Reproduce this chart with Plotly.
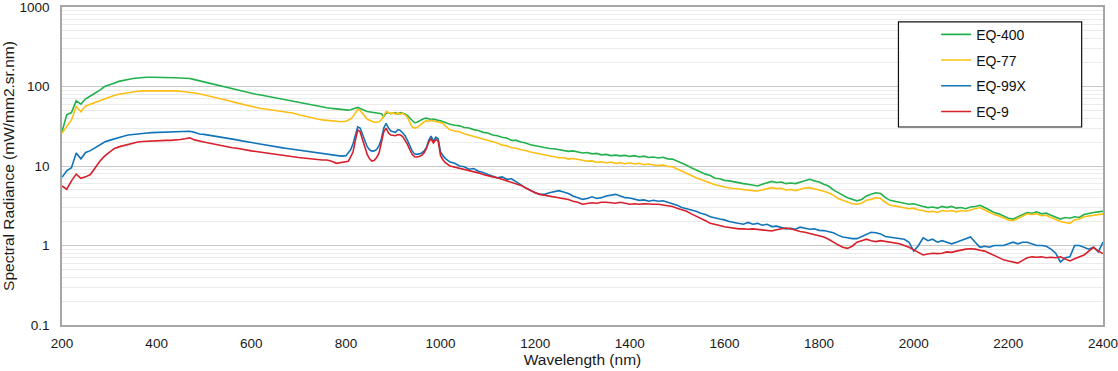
import plotly.graph_objects as go

# Wavelength sampling (nm): 10 nm steps, 5 nm through the 800-1005 nm peak region
wavelength = list(range(200, 800, 10)) + list(range(800, 1010, 5)) + list(range(1010, 2401, 10))

eq400 = [
    # 200-790
    27, 44, 47, 66, 60, 70, 76, 82, 90, 100,
    106, 110, 116, 120, 123, 126, 128, 130, 131, 131,
    131, 131, 130, 130, 129, 128, 127, 126, 122, 118,
    115, 111, 107, 105, 101, 97, 95, 92, 88, 86,
    83, 80, 78, 76, 74, 72, 70, 68, 66, 65,
    63, 61, 59, 58, 56, 55, 54, 53, 52, 51,
    # 800-1005 (5 nm)
    50, 50.5, 51, 52, 53, 54.5, 53, 51, 50, 48.5,
    48, 47.5, 47, 46.5, 46, 45.5, 42, 46, 47, 45.5,
    46, 47, 45, 47, 46, 45, 43, 40, 36.5, 35,
    35.5, 37, 38, 39.5, 40, 39, 38.5, 39, 38, 37.5,
    37, 36,
    # 1010-2400
    35, 33.5, 32.5, 32, 30.5, 30, 28.7, 28, 26.5,
    26, 24.5, 24, 23, 22.5, 21, 21, 20, 19.5, 18.5,
    18, 17.5, 17.3, 16.6, 16.5, 16, 15.8, 15.3, 15.5, 15,
    14.6, 14.8, 14.2, 14.4, 13.8, 14.0, 13.5, 13.7, 13.4, 13.6,
    13.2, 13.5, 13.0, 13.3, 12.8, 13.0, 12.6, 12.9, 12.3, 12.2,
    11.5, 11.0, 10.2, 9.5, 8.9, 8.5, 7.9, 7.6, 7.0, 6.9,
    6.6, 6.5, 6.3, 6.2, 6.0, 5.9, 5.7, 5.6, 5.9, 6.2,
    6.4, 6.2, 6.3, 6.0, 6.1, 6.0, 6.3, 6.6, 6.8, 6.5,
    6.3, 5.9, 5.6, 5.0, 4.6, 4.3, 4.0, 3.8, 3.65, 3.8,
    4.2, 4.4, 4.6, 4.5, 4.0, 3.7, 3.6, 3.5, 3.4, 3.3,
    3.35, 3.2, 3.1, 3.0, 3.05, 2.95, 3.1, 3.0, 3.1, 2.95,
    3.0, 2.9, 3.05, 3.1, 3.2, 3.0, 2.8, 2.6, 2.5, 2.35,
    2.2, 2.15, 2.3, 2.45, 2.6, 2.55, 2.65, 2.5, 2.55, 2.4,
    2.25, 2.15, 2.25, 2.2, 2.3, 2.25, 2.45, 2.55, 2.6, 2.65,
    2.7,
]

eq77 = [
    # 200-790
    26, 32, 38, 56, 48, 57, 60, 63, 67, 71,
    74, 77, 80, 82, 84, 86, 87, 88, 88, 89,
    89, 89, 88, 88, 88, 87, 86, 85, 83, 81,
    78, 76, 73, 71, 69, 67, 65, 62, 60, 58,
    56, 55, 53, 52, 51, 50, 49, 48, 47, 46,
    44, 42.5, 41, 40, 39, 38, 37.5, 37, 36.5, 36,
    # 800-1005 (5 nm)
    36.5, 37.5, 39, 42, 47, 51.5, 50, 46, 42, 39,
    37.5, 36.5, 35.5, 35.5, 36, 38, 44, 48.5, 47, 46,
    46.5, 45, 46.5, 45, 46, 44, 41, 36, 31, 30,
    30.5, 32, 34, 36, 37, 36.5, 37.5, 37, 36.5, 36,
    35, 34.5,
    # 1010-2400
    32, 28.5, 27.5, 27, 25.5, 24.5, 23.7, 23, 21.8,
    21, 20, 19.5, 18.3, 18, 17, 16.7, 16, 15.7, 15,
    14.6, 14.2, 13.8, 13.3, 13.1, 12.7, 12.8, 12.2, 12.4, 12.0,
    11.8, 11.5, 11.6, 11.1, 11.3, 10.9, 11.2, 10.8, 11.0, 10.7,
    11.0, 10.6, 10.8, 10.4, 10.6, 10.3, 10.1, 10.3, 9.9, 9.8,
    9.2, 8.8, 8.2, 7.6, 7.1, 6.8, 6.4, 6.1, 5.8, 5.6,
    5.4, 5.3, 5.2, 5.1, 5.0, 4.95, 4.9, 4.85, 5.0, 5.2,
    5.35, 5.2, 5.25, 5.0, 5.05, 4.9, 5.1, 5.3, 5.35, 5.2,
    5.0, 4.8, 4.6, 4.3, 3.9, 3.7, 3.5, 3.35, 3.3, 3.4,
    3.7, 3.8, 4.0, 3.9, 3.5, 3.2, 3.15, 3.05, 2.95, 2.9,
    2.95, 2.8, 2.75, 2.65, 2.7, 2.6, 2.75, 2.7, 2.75, 2.65,
    2.75, 2.7, 2.8, 2.9, 3.0, 2.8, 2.6, 2.45, 2.35, 2.2,
    2.1, 2.05, 2.2, 2.35, 2.5, 2.45, 2.5, 2.37, 2.4, 2.25,
    2.1, 2.0, 1.95, 1.9, 2.1, 2.15, 2.3, 2.35, 2.4, 2.45,
    2.5,
]

eq99x = [
    # 200-790
    7.2, 8.7, 9.5, 14.6, 12.3, 14.8, 15.6, 17, 18.8, 20,
    21, 22, 23, 23.7, 24.5, 25, 25.5, 25.8, 26, 26.3,
    26.5, 26.6, 26.6, 26.8, 27, 27, 27.2, 27.4, 26.5, 25.3,
    25, 24.5, 24, 23.5, 23, 22.5, 21.8, 21.3, 20.7, 20.2,
    19.6, 19.2, 18.7, 18.3, 17.9, 17.5, 17.1, 16.8, 16.5, 16.2,
    15.9, 15.6, 15.3, 15, 14.8, 14.5, 14.2, 14, 13.5, 13.3,
    # 800-1005 (5 nm)
    13.5, 14.5, 16, 19, 25, 31, 30, 25, 20.5, 17.5,
    16, 15.4, 15.5, 16.2, 18, 22, 30, 34.5, 30, 27.5,
    27, 26.5, 28.7, 28, 26, 24, 21, 18, 15.5, 14.2,
    14, 14.2, 14.6, 15.4, 17, 21, 23.7, 20.5, 23, 22,
    15, 13.5,
    # 1010-2400
    12.5, 11.2, 10.8, 10.0, 9.8, 9.1, 9.3, 8.6, 8.3,
    7.8, 7.5, 7.1, 7.3, 6.8, 6.9, 6.4, 5.8, 5.3, 4.9,
    4.6, 4.4, 4.4, 4.6, 4.8, 4.9, 4.7, 4.5, 4.2, 4.0,
    3.8, 3.9, 4.1, 3.9, 4.0, 4.2, 4.3, 4.4, 4.2, 4.0,
    3.96, 3.8, 3.7, 3.75, 3.6, 3.7, 3.6, 3.65, 3.5, 3.4,
    3.2, 3.0, 2.9, 2.8, 2.7, 2.55, 2.45, 2.3, 2.2, 2.15,
    2.1, 2.0, 1.95, 1.9, 1.85, 1.95, 1.85, 1.9, 1.8, 1.85,
    1.73, 1.75, 1.68, 1.62, 1.65, 1.6, 1.7, 1.66, 1.6, 1.62,
    1.55, 1.54, 1.5, 1.45, 1.35, 1.28, 1.25, 1.22, 1.22, 1.3,
    1.4, 1.47, 1.45, 1.4, 1.3, 1.28, 1.25, 1.22, 1.2, 1.1,
    0.85, 1.0, 1.25, 1.15, 1.2, 1.1, 1.15, 1.1, 1.05, 1.1,
    1.15, 1.2, 1.28, 1.1, 0.95, 0.98, 0.95, 1.0, 1.0, 1.0,
    1.05, 1.1, 1.05, 1.1, 1.1, 1.05, 1.0, 1.0, 0.98, 0.9,
    0.8, 0.62, 0.7, 0.72, 1.0, 1.0, 0.95, 0.9, 0.95, 0.83,
    1.1,
]

eq9 = [
    # 200-790
    5.6, 5.1, 6.5, 7.9, 7.0, 7.3, 7.8, 9.5, 11.5, 13.3,
    15, 16.5, 17.4, 18, 18.8, 19.5, 20, 20.3, 20.5, 20.5,
    20.7, 20.8, 21, 21, 21.1, 21.5, 22, 22.6, 21.3, 20.5,
    20, 19.5, 18.9, 18.4, 18, 17.5, 17, 16.7, 16.2, 15.8,
    15.5, 15.2, 14.9, 14.6, 14.3, 14, 13.6, 13.4, 13.2, 13,
    12.8, 12.6, 12.4, 12.1, 12, 11.9, 11.9, 11.5, 10.8, 11.0,
    # 800-1005 (5 nm)
    11.2, 11.5, 13, 15, 21, 28.5, 27, 22, 17, 14,
    12.3, 11.5, 11.8, 12.8, 14.5, 19, 27, 30, 26, 24.5,
    24.2, 24, 24.9, 24.5, 23.5, 21, 18.7, 16, 14, 13.1,
    13, 13.2, 13.6, 14.6, 16.5, 20, 22, 19.5, 21.6, 20.5,
    13.5, 12,
    # 1010-2400
    11, 10, 9.7, 9.3, 9.1, 8.7, 8.5, 8.2, 7.8,
    7.5, 7.3, 7.1, 6.8, 6.6, 6.3, 6.0, 5.7, 5.3, 4.9,
    4.6, 4.4, 4.3, 4.2, 4.1, 4.0, 3.96, 3.8, 3.6, 3.5,
    3.3, 3.4, 3.45, 3.4, 3.5, 3.5, 3.45, 3.4, 3.5, 3.4,
    3.3, 3.35, 3.3, 3.35, 3.3, 3.3, 3.3, 3.25, 3.2, 3.1,
    2.95, 2.85, 2.7, 2.5, 2.35, 2.2, 2.05, 1.9, 1.82, 1.78,
    1.72, 1.68, 1.65, 1.62, 1.62, 1.6, 1.62, 1.6, 1.58, 1.55,
    1.52, 1.58, 1.62, 1.66, 1.62, 1.55, 1.5, 1.47, 1.42, 1.38,
    1.33, 1.28, 1.2, 1.1, 1.02, 0.95, 0.92, 0.98, 1.1, 1.15,
    1.2, 1.15, 1.12, 1.15, 1.12, 1.1, 1.08, 1.05, 1.0, 0.95,
    0.88, 0.82, 0.76, 0.78, 0.8, 0.79, 0.8, 0.83, 0.82, 0.85,
    0.88, 0.9, 0.91, 0.9, 0.87, 0.85, 0.8, 0.75, 0.7, 0.66,
    0.64, 0.62, 0.6, 0.65, 0.7, 0.72, 0.71, 0.72, 0.7, 0.71,
    0.7, 0.72, 0.68, 0.64, 0.68, 0.72, 0.76, 0.85, 0.95, 0.85,
    0.79,
]

series_names = ["EQ-400", "EQ-77", "EQ-99X", "EQ-9"]
series_values = [eq400, eq77, eq99x, eq9]
series_colors = ["#22b14c", "#fdbf14", "#1174b8", "#d7202b"]

y_tick_vals = [0.1, 1, 10, 100, 1000]
y_tick_text = ["0.1", "1", "10", "100", "1000"]
y_minor_vals = [m * 10 ** e for e in range(-1, 3) for m in range(2, 10)]

for n, v in zip(series_names, series_values):
    if len(v) != len(wavelength):
        raise ValueError(f"{n}: {len(v)} values vs {len(wavelength)} wavelengths")

fig = go.Figure()
for name, vals, col in zip(series_names, series_values, series_colors):
    fig.add_trace(go.Scatter(
        x=wavelength, y=vals, mode="lines", name=name,
        legendgroup=name,
        line=dict(color=col, width=1.6),
    ))

font_family = "Arial, Liberation Sans, sans-serif"

fig.update_layout(
    width=1118, height=371,
    margin=dict(l=62, r=15, t=7, b=46, autoexpand=False),
    paper_bgcolor="white", plot_bgcolor="white",
    font=dict(family=font_family, size=14, color="#1a1a1a"),
    showlegend=True,
    legend=dict(
        x=0.8397, y=0.963, xanchor="left", yanchor="top",
        bgcolor="rgba(0,0,0,0)", borderwidth=0,
        font=dict(size=14, color="#111"),
        tracegroupgap=4.5,
    ),
    shapes=[dict(
        type="rect", xref="paper", yref="paper",
        x0=0.8035, x1=0.9795, y0=0.6226, y1=0.953,
        line=dict(color="#111", width=1.2), fillcolor="white", layer="above",
    )],
)

fig.update_xaxes(
    range=[200, 2400], tickmode="linear", tick0=200, dtick=200,
    showgrid=False, zeroline=False, automargin=False,
    showline=True, linecolor="#a6a6a6", linewidth=1.5, mirror=True,
    ticks="outside", ticklen=5, tickcolor="rgba(0,0,0,0)",
    tickfont=dict(size=13.5), ticklabeloverflow="allow",
    title=dict(text="Wavelength (nm)", font=dict(size=15.5), standoff=4),
)

fig.update_yaxes(
    type="log", range=[-1, 3], automargin=False,
    tickmode="array", tickvals=y_tick_vals, ticktext=y_tick_text,
    showgrid=True, gridcolor="#c8c8c8", gridwidth=1.2,
    minor=dict(tickmode="array", tickvals=y_minor_vals, showgrid=True,
               gridcolor="#ebebeb", gridwidth=1, ticks=""),
    zeroline=False,
    showline=True, linecolor="#a6a6a6", linewidth=1.5, mirror=True,
    ticks="outside", ticklen=8, tickcolor="rgba(0,0,0,0)",
    tickfont=dict(size=13.5), ticklabeloverflow="allow",
    title=dict(text="Spectral Radiance (mW/mm2.sr.nm)", font=dict(size=15.5), standoff=4),
)

fig.write_html("out.html", config={"displayModeBar": False},
               post_script="document.body.style.margin='0px';")
